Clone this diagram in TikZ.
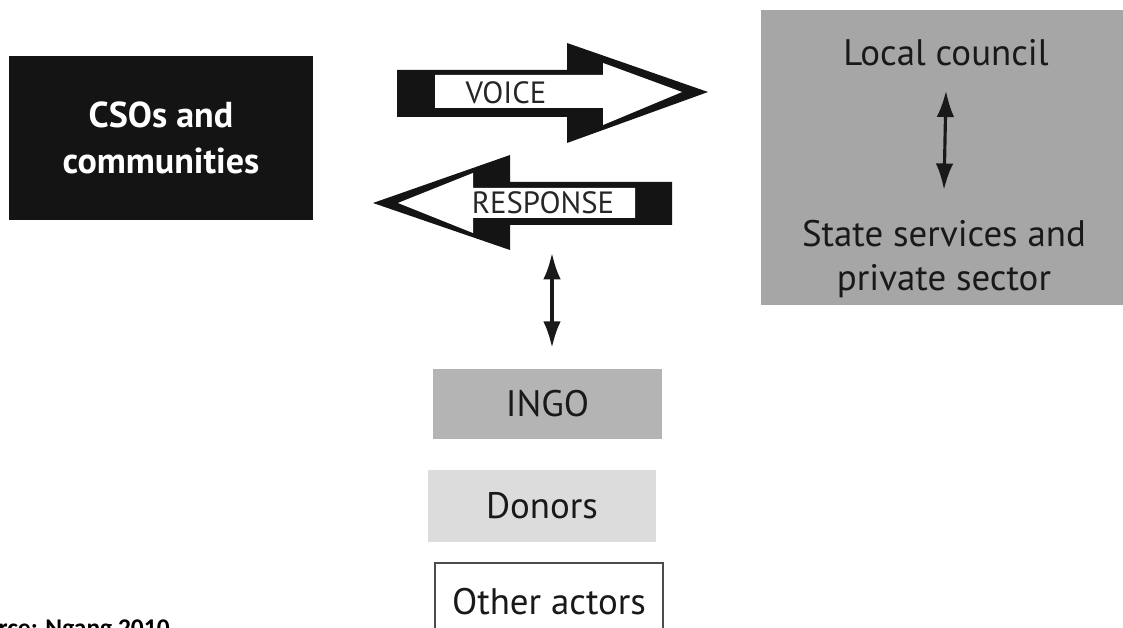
\documentclass[tikz,border=0pt]{standalone}
\usepackage{fontspec}
\setmainfont{PT Sans}
\newfontfamily\srcfont{Carlito}
\usepackage{xcolor}
\usetikzlibrary{arrows.meta}

\definecolor{boxgray}{HTML}{A6A6A6}
\definecolor{midgray}{HTML}{B4B4B4}
\definecolor{palegray}{HTML}{DCDCDC}
\definecolor{boxblack}{HTML}{141414}

\tikzset{
  box/.style={inner sep=0pt, align=center, text=black!90,
    font=\fontsize{21}{26}\selectfont},
  lbl/.style={inner sep=0pt, align=center, text=black!90,
    font=\fontsize{21}{25}\selectfont},
  arrlbl/.style={inner sep=0pt, text=black!85,
    font=\fontsize{17.5}{20}\selectfont},
  updown/.style={{Latex[length=15pt,width=10pt]}-{Latex[length=15pt,width=10pt]},
    line width=1.8pt, black!90},
}

\begin{document}
\begin{tikzpicture}[x=0.02cm, y=-0.02cm]
    \clip (0,0) rectangle (1123,628);
    \fill[white] (0,0) rectangle (1123,628);

    % boxes
    \node[box, fill=boxblack, text=white, font=\bfseries\fontsize{20.5}{26}\selectfont,
      minimum width=6.08cm, minimum height=3.28cm] (csos) at (161,138) {CSOs and\\communities};
    \node[box, fill=boxgray, minimum width=7.38cm, minimum height=5.9cm] (gov) at (945.5,157.5) {};
    \node[box, fill=midgray, minimum width=4.58cm, minimum height=1.4cm] (ingo) at (547.5,404) {INGO};
    \node[box, fill=palegray, minimum width=4.56cm, minimum height=1.44cm] (donors) at (542,506) {Donors};
    \node[box, draw=black!70, line width=0.8pt, minimum width=4.56cm, minimum height=1.54cm] (others) at (549,601.5) {Other actors};

    % inside the grey box
    \node[lbl] (council) at (946,53) {Local council};
    \node[lbl] (state) at (944,259) {State services and\\private sector};
    \draw[updown] ([yshift=-0.48cm]council.south) -- ([yshift=0.6cm]state.north);

    % VOICE arrow
    \fill[boxblack] (397,70) -- (567,70) -- (567,43) -- (708,92) -- (567,143)
      -- (567,117) -- (397,117) -- cycle;
    \fill[white] (435,75) -- (603,75) -- (603,63) -- (682,92) -- (603,125)
      -- (603,108) -- (435,108) -- cycle;
    \node[arrlbl] (voice) at (506,93) {VOICE};

    % RESPONSE arrow
    \fill[boxblack] (672,182) -- (510,182) -- (510,155) -- (373,203) -- (510,250)
      -- (510,225) -- (672,225) -- cycle;
    \fill[white] (635,188) -- (473,188) -- (473,173) -- (398,203) -- (473,233)
      -- (473,218) -- (635,218) -- cycle;
    \node[arrlbl] (response) at (543,203) {RESPONSE};

    % RESPONSE <-> INGO
    \coordinate (resp-foot) at (552,253);
    \draw[updown, shorten >=0.42cm] (resp-foot) -- (ingo.north -| resp-foot);

    % source line
    \node[inner sep=0pt, anchor=base east, font=\srcfont\bfseries\fontsize{14.5}{16}\selectfont]
      (source) at (170,636) {Source: Ngang 2010};
\end{tikzpicture}
\end{document}
